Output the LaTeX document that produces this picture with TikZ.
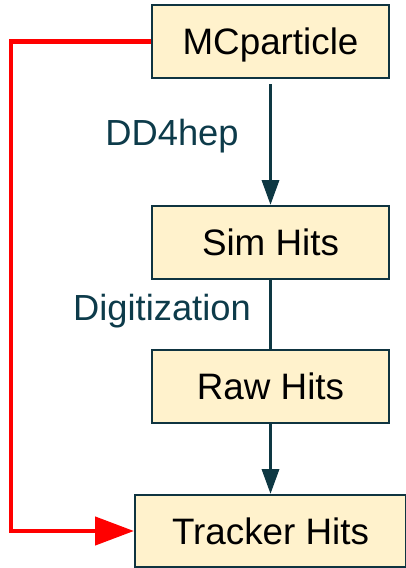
\documentclass[tikz,border=0pt]{standalone}
\usepackage{fontspec}
\setmainfont{Liberation Sans}
\usetikzlibrary{arrows.meta}
\definecolor{boxfill}{HTML}{FFF2CC}
\definecolor{boxline}{HTML}{0F3440}
\definecolor{flowline}{HTML}{0E3843}
\definecolor{lbl}{HTML}{0D3B4A}
\definecolor{redline}{HTML}{FF0000}
\begin{document}
\begin{tikzpicture}[x=1pt,y=-1pt,
  stagebox/.style={draw=boxline, line width=2pt, fill=boxfill, rectangle,
    minimum width=237pt, minimum height=73pt, inner sep=0pt,
    font=\fontsize{36.8}{40}\selectfont, text height=26.3pt, text depth=0pt},
  flow/.style={draw=flowline, line width=3.5pt},
  flowarrow/.style={flow, -{Triangle[length=25pt,width=17pt]}},
  redarrow/.style={draw=redline, line width=4.5pt, -{Triangle[length=39pt,width=28pt]}},
  steplabel/.style={text=lbl, font=\fontsize{36.3}{40}\selectfont, inner sep=0pt,
    text height=26pt, text depth=0pt}]
\useasboundingbox (0,0) rectangle (406,568);
\node[stagebox] (mc) at (270.5,41.5) {MCparticle};
\node[stagebox] (sim) at (270.5,242.5) {Sim Hits};
\node[stagebox] (raw) at (270.5,386.5) {Raw Hits};
\node[stagebox, minimum width=271pt, minimum height=72pt] (tr) at (270.5,531) {Tracker Hits};
\coordinate (mcbot) at ([yshift=-5pt]mc.south);
\draw[flowarrow] (mcbot) -- (sim.north);
\draw[flow] (sim.south) -- (raw.north);
\draw[flowarrow] (raw.south) -- (tr.north);
\node[steplabel] (dd) at (172,132.5) {DD4hep};
\node[steplabel] (dig) at (162,307.5) {Digitization};
\coordinate (lft) at (11,300);
\draw[redarrow] (mc.west) -| (lft) |- (tr.west);
\end{tikzpicture}
\end{document}
